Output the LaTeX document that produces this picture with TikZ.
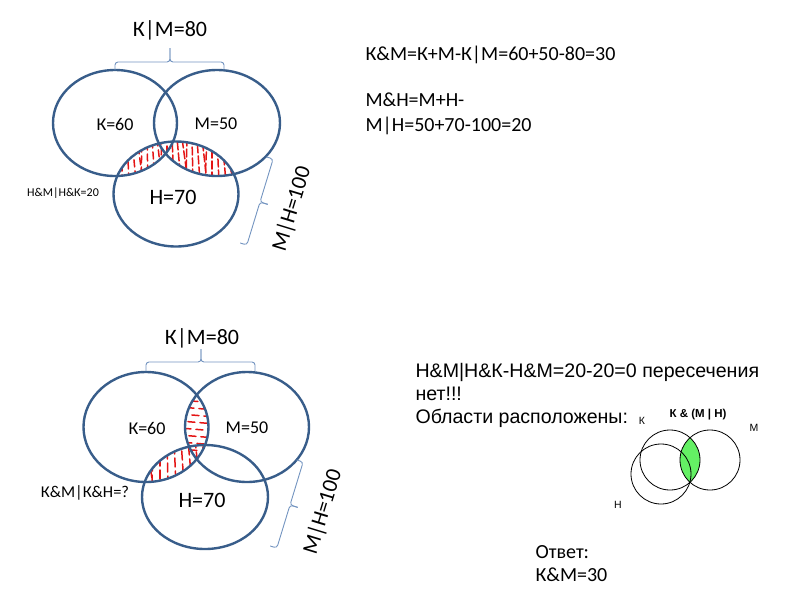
\documentclass[tikz,border=0pt]{standalone}
\usepackage{fontspec}
\setmainfont{Carlito}
\newfontfamily\arialfont{Liberation Sans}
\definecolor{ringblue}{RGB}{56,93,138}
\definecolor{braceblue}{RGB}{115,148,192}
\definecolor{hatchred}{RGB}{228,20,20}
\definecolor{lensgreen}{RGB}{100,240,100}
\begin{document}
\begin{tikzpicture}[x=1pt,y=-1pt,
  ring/.style={draw=ringblue,line width=2.4pt},
  curly/.style={draw=braceblue,line width=0.9pt,rounded corners=3pt},
  hatch/.style={draw=hatchred,line width=1.5pt,line cap=round},
  big/.style={font=\fontsize{22}{26}\selectfont},
  lbl/.style={font=\fontsize{18}{22}\selectfont},
  side/.style={font=\fontsize{22}{26}\selectfont,rotate=73},
  txt/.style={anchor=base west,font=\fontsize{20}{25}\selectfont},
  ru/.style={anchor=base west,font=\arialfont\fontsize{19.6}{23}\selectfont},
  mini/.style={font=\arialfont\fontsize{10.5}{12}\selectfont},
  minicirc/.style={draw=black,line width=0.8pt}]
\useasboundingbox (0,0) rectangle (800,600);
% upper diagram
\coordinate (K1) at (115,123);
\coordinate (M1) at (217,123);
\coordinate (H1) at (176,194);
\begin{scope}
  \clip (H1) ellipse [x radius=62.5,y radius=52.5];
  \clip (K1) ellipse [x radius=62,y radius=53];
  \foreach \x [evaluate=\x as \ph using {mod(\x*7,11)},
               evaluate=\x as \sl using {mod(\x*13,9)-2}] in {112,117,...,180}
    \draw[hatch,dash pattern=on 7pt off 4pt,dash phase=\ph pt] (\x,138) -- ++(\sl,44);
\end{scope}
\begin{scope}
  \clip (H1) ellipse [x radius=62.5,y radius=52.5];
  \clip (M1) ellipse [x radius=63,y radius=53];
  \foreach \x [evaluate=\x as \ph using {mod(\x*7,11)},
               evaluate=\x as \sl using {mod(\x*13,9)-2}] in {172,177,...,236}
    \draw[hatch,dash pattern=on 8pt off 3pt,dash phase=\ph pt] (\x,138) -- ++(\sl,44);
\end{scope}
\draw[ring] (K1) ellipse [x radius=62,y radius=53];
\draw[ring] (M1) ellipse [x radius=63,y radius=53];
\draw[ring] (H1) ellipse [x radius=62.5,y radius=52.5];
\node[lbl] (k1) at (115,124) {К=60};
\node[lbl] (m1) at (216,124) {М=50};
\node[big] (h1) at (173,197) {Н=70};
\node[big] (km1) at (170,30) {К|М=80};
\draw[curly] (115,70) -- (115,62) -- (170,62) -- (170,48);
\draw[curly] (224,70) -- (224,62) -- (170,62) -- (170,48);
\begin{scope}[shift={(260,202)},rotate=-17]
  \draw[curly] (-7,-45) -- (0,-45) -- (0,0) -- (8,0);
  \draw[curly] (-7,45) -- (0,45) -- (0,0) -- (8,0);
\end{scope}
\node[side] (mh1) at (292,209) {М|Н=100};
\node[font=\fontsize{12}{14}\selectfont] (u1) at (63,193) {Н\&М|Н\&К=20};
% lower diagram
\coordinate (K2) at (146,427);
\coordinate (M2) at (247,427);
\coordinate (H2) at (205,497);
\begin{scope}
  \clip (K2) ellipse [x radius=62.5,y radius=55];
  \clip (M2) ellipse [x radius=62,y radius=55];
  \foreach \y [evaluate=\y as \ph using {mod(\y*7,9)}] in {400,407,...,458}
    \draw[hatch,dash pattern=on 7pt off 5pt,dash phase=\ph pt] (180,\y) -- ++(36,3);
\end{scope}
\begin{scope}
  \clip (K2) ellipse [x radius=62.5,y radius=55];
  \clip (H2) ellipse [x radius=63,y radius=52];
  \foreach \x [evaluate=\x as \ph using {mod(\x*7,11)},
               evaluate=\x as \sl using {mod(\x*13,9)-1}] in {146,153,...,205}
    \draw[hatch,dash pattern=on 9pt off 4pt,dash phase=\ph pt] (\x,440) -- ++(\sl,45);
\end{scope}
\draw[ring] (K2) ellipse [x radius=62.5,y radius=55];
\draw[ring] (M2) ellipse [x radius=62,y radius=55];
\draw[ring] (H2) ellipse [x radius=63,y radius=52];
\node[lbl] (k2) at (147,428) {К=60};
\node[lbl] (m2) at (247,428) {М=50};
\node[big] (h2) at (202,500) {Н=70};
\node[big] (km2) at (202,338) {К|М=80};
\draw[curly] (146,371) -- (146,362) -- (201,362) -- (201,349);
\draw[curly] (255,371) -- (255,362) -- (201,362) -- (201,349);
\begin{scope}[shift={(290,505)},rotate=-17]
  \draw[curly] (-7,-45) -- (0,-45) -- (0,0) -- (8,0);
  \draw[curly] (-7,45) -- (0,45) -- (0,0) -- (8,0);
\end{scope}
\node[side] (mh2) at (323,512) {М|Н=100};
\node[font=\fontsize{16.5}{18}\selectfont] (u2) at (85,493) {К\&М|К\&Н=?};
% right side
\node[txt] (t1) at (362,60) {К\&М=К+М-К|М=60+50-80=30};
\node[txt] (t2) at (362,106) {М\&Н=М+Н-};
\node[txt] (t3) at (362,131) {М|Н=50+70-100=20};
\node[ru] (r1) at (412,377) {Н\&М|Н\&К-Н\&М=20-20=0 пересечения};
\node[ru] (r2) at (412,400) {нет!!!};
\node[ru] (r3) at (412,423) {Области расположены:};
\node[txt] (a1) at (532,558) {Ответ:};
\node[txt] (a2) at (532,581) {К\&М=30};
% small diagram
\coordinate (Ks) at (670,460);
\coordinate (Ms) at (710,460);
\coordinate (Hs) at (661,474);
\begin{scope}
  \clip (Ks) circle [radius=30];
  \fill[lensgreen] (Ms) circle [radius=30];
\end{scope}
\draw[minicirc] (Ks) circle [radius=30];
\draw[minicirc] (Ms) circle [radius=30];
\draw[minicirc] (Hs) circle [radius=30];
\node[mini] (ks) at (642,421) {К};
\node[mini,font=\arialfont\bfseries\fontsize{11.5}{13}\selectfont] (kmh) at (698,415) {К \& (М | Н)};
\node[mini] (ms) at (754,428) {М};
\node[mini] (hs) at (618,505) {Н};
\end{tikzpicture}
\end{document}
